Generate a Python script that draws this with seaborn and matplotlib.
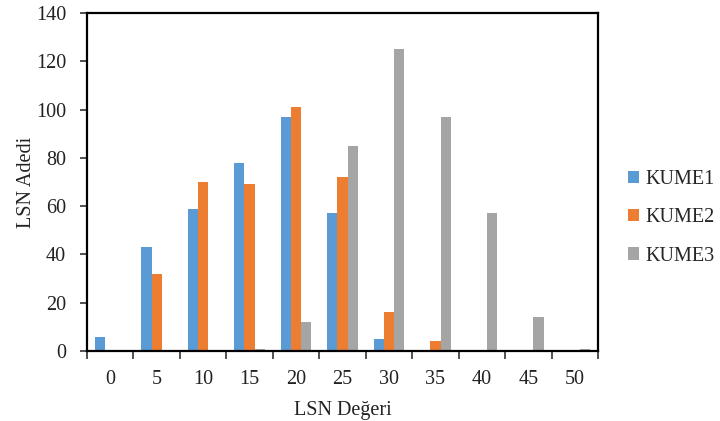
import matplotlib
matplotlib.use("Agg")
import matplotlib.pyplot as plt
import numpy as np
import pandas as pd
import seaborn as sns

# LSN value bins and counts per cluster
categories = ["0", "5", "10", "15", "20", "25", "30", "35", "40", "45", "50"]
kume1 = [6, 43, 59, 78, 97, 57, 5, 0, 0, 0, 0]
kume2 = [0, 32, 70, 69, 101, 72, 16, 4, 0, 0, 0]
kume3 = [0, 0, 0, 1, 12, 85, 125, 97, 57, 14, 1]
series_names = ["KUME1", "KUME2", "KUME3"]
colors = ["#5B9BD5", "#ED7D31", "#A5A5A5"]

df = pd.DataFrame({
    "LSN": categories * 3,
    "count": kume1 + kume2 + kume3,
    "series": np.repeat(series_names, len(categories)),
})

sns.set_theme(style="white")
plt.rcParams["font.family"] = ["Liberation Serif", "DejaVu Serif"]
FS = 14.5

fig = plt.figure(figsize=(7.2, 4.21), dpi=100)
ax = fig.add_axes([87 / 720, 1 - 351 / 421, (598 - 87) / 720, (351 - 13) / 421])

sns.barplot(data=df, x="LSN", y="count", hue="series", order=categories,
            hue_order=series_names, palette=colors, width=0.665,
            saturation=1, linewidth=0, ax=ax, legend=True)

ax.set_xlim(-0.5, len(categories) - 0.5)
ax.set_ylim(0, 140)
ax.set_yticks(range(0, 141, 20))

# category boundaries carry the x tick marks, labels sit at category centers
ax.set_xticks(np.arange(-0.5, len(categories), 1.0), minor=True)
ax.tick_params(axis="x", which="major", length=0, pad=14, labelsize=FS, colors="#222222")
ax.tick_params(axis="x", which="minor", length=6, width=1.2, direction="out",
               color="#333333", bottom=True)
ax.tick_params(axis="y", which="major", length=5, width=1.2, direction="out",
               left=True, pad=10, labelsize=FS, colors="#222222")
ax.tick_params(axis="y", which="major", color="#333333")

for side in ["left", "bottom", "top", "right"]:
    ax.spines[side].set_visible(True)
    ax.spines[side].set_color("black")
    ax.spines[side].set_linewidth(1.6)

ax.set_xlabel("LSN Değeri", fontsize=FS, color="#222222", labelpad=8)
ax.set_ylabel("LSN Adedi", fontsize=FS, color="#222222", labelpad=0)
ax.grid(False)

handles, labels = ax.get_legend_handles_labels()
ax.legend_.remove()
fig.legend(handles, labels, loc="center left", bbox_to_anchor=(628 / 720, 1 - 218 / 421),
           frameon=False, fontsize=FS, handlelength=0.55, handleheight=0.55,
           handletextpad=0.3, labelspacing=0.95, borderpad=0, borderaxespad=0)

fig.savefig("out.png", dpi=100)
